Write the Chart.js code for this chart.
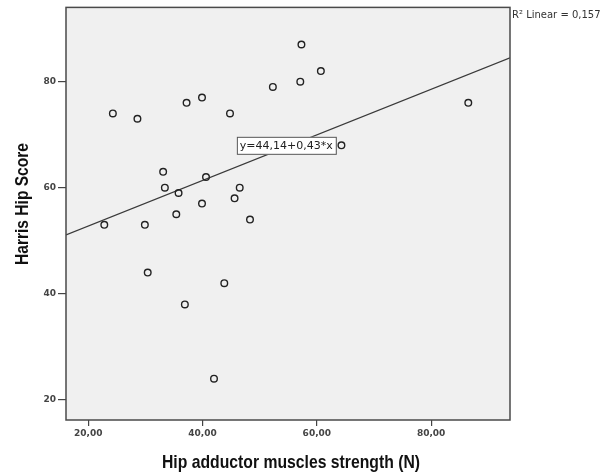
<!DOCTYPE html>
<html lang="en">
<head>
    <meta charset="UTF-8">
    <title>Harris Hip Score vs hip adductor strength</title>
    <script src="https://cdn.jsdelivr.net/npm/chart.js"></script>
    <style>
        body { margin: 0; background: #fff; }
        #wrap { width: 614px; height: 475px; position: relative; }
    </style>
</head>
<body>
    <div id="wrap"><canvas id="scatter"></canvas></div>

    <script>
        // values
        const strengthN = [24.3, 28.6, 37.2, 39.9, 44.8, 52.3, 57.3, 57.1, 60.7, 86.5, 64.3,
                           33.1, 33.4, 35.8, 40.6, 35.4, 39.9, 45.6, 46.5, 48.3, 22.8, 29.9,
                           30.4, 36.9, 43.8, 42.0];
        const harrisScore = [74, 73, 76, 77, 74, 79, 87, 80, 82, 76, 68,
                             63, 60, 59, 62, 55, 57, 58, 60, 54, 53, 53,
                             44, 38, 42, 24];
        // fit line end points (y=44,14+0,43*x)
        const fitX = [16.1, 93.8];
        const fitY = [51.1, 84.5];
        const xTicks = [20, 40, 60, 80];
        const yTicks = [20, 40, 60, 80];
        const xTitle = 'Hip adductor muscles strength (N)';
        const yTitle = 'Harris Hip Score';
        const fitLabel = 'y=44,14+0,43*x';
        const r2Label = 'R² Linear = 0,157';

        // draws a narrow bold title squeezed to a given width
        function narrowText(c, text, cx, cy, width, rot) {
            c.save();
            c.font = 'bold 19px "Liberation Sans"';
            c.fillStyle = '#111';
            c.textAlign = 'center';
            c.textBaseline = 'middle';
            const k = width / c.measureText(text).width;
            c.translate(cx, cy);
            c.rotate(rot);
            c.scale(k, 1);
            c.fillText(text, 0, 0);
            c.restore();
        }

        const frame = {
            id: 'frame',
            beforeDatasetsDraw(chart) {
                const a = chart.chartArea, c = chart.ctx;
                c.save();
                c.fillStyle = '#f0f0f0';
                c.fillRect(a.left, a.top, a.right - a.left, a.bottom - a.top);
                c.restore();
            },
            afterDatasetsDraw(chart) {
                const a = chart.chartArea, c = chart.ctx;
                c.save();
                c.strokeStyle = '#4a4a4a';
                c.lineWidth = 1.5;
                c.strokeRect(a.left, a.top, a.right - a.left, a.bottom - a.top);

                // equation box
                const x = chart.scales.x, y = chart.scales.y;
                c.font = '11px "DejaVu Sans"';
                const w = c.measureText(fitLabel).width + 6;
                const bx = x.getPixelForValue(46.0), by = y.getPixelForValue(67.9);
                c.fillStyle = '#fff';
                c.fillRect(bx, by - 9, w, 18);
                c.lineWidth = 1;
                c.strokeStyle = '#555';
                c.strokeRect(bx + 0.5, by - 8.5, w, 17);
                c.fillStyle = '#222';
                c.textBaseline = 'middle';
                c.fillText(fitLabel, bx + 3, by + 0.5);

                // R2 label
                c.font = '10px "DejaVu Sans"';
                c.fillStyle = '#333';
                c.fillText(r2Label, a.right + 2, 15);
                c.restore();

                // axis titles
                narrowText(c, xTitle, 291, 463, 258, 0);
                narrowText(c, yTitle, 23, 204, 122, -Math.PI / 2);
            }
        };

        const tickFont = { family: 'DejaVu Sans', size: 9, weight: 'bold' };

        new Chart(document.getElementById('scatter'), {
            type: 'scatter',
            data: {
                datasets: [{
                    data: strengthN.map((v, i) => ({ x: v, y: harrisScore[i] })),
                    pointStyle: 'circle',
                    pointRadius: 3.3,
                    borderColor: '#222',
                    borderWidth: 1.4,
                    backgroundColor: 'rgba(0,0,0,0)'
                }, {
                    type: 'line',
                    data: fitX.map((v, i) => ({ x: v, y: fitY[i] })),
                    borderColor: '#3a3a3a',
                    borderWidth: 1.2,
                    pointRadius: 0,
                    fill: false
                }]
            },
            options: {
                responsive: true,
                maintainAspectRatio: false,
                animation: false,
                layout: { padding: { top: 6, right: 104, left: 0, bottom: 0 } },
                plugins: { legend: { display: false }, tooltip: { enabled: false } },
                scales: {
                    x: {
                        type: 'linear',
                        min: 16.1, max: 93.8,
                        afterBuildTicks: s => { s.ticks = xTicks.map(v => ({ value: v })); },
                        afterFit: s => { s.height = 55; },
                        border: { display: false },
                        grid: { drawOnChartArea: false, tickLength: 6, color: '#444', lineWidth: 1.2 },
                        ticks: {
                            font: tickFont, color: '#444', padding: 2, maxRotation: 0,
                            callback: v => v.toFixed(2).replace('.', ',')
                        }
                    },
                    y: {
                        min: 16.2, max: 94,
                        afterBuildTicks: s => { s.ticks = yTicks.map(v => ({ value: v })); },
                        afterFit: s => { s.width = 66; },
                        border: { display: false },
                        grid: { drawOnChartArea: false, tickLength: 8, color: '#444', lineWidth: 1.2 },
                        ticks: { font: tickFont, color: '#444', padding: 2, callback: v => String(v) }
                    }
                }
            },
            plugins: [frame]
        });
    </script>
</body>
</html>
